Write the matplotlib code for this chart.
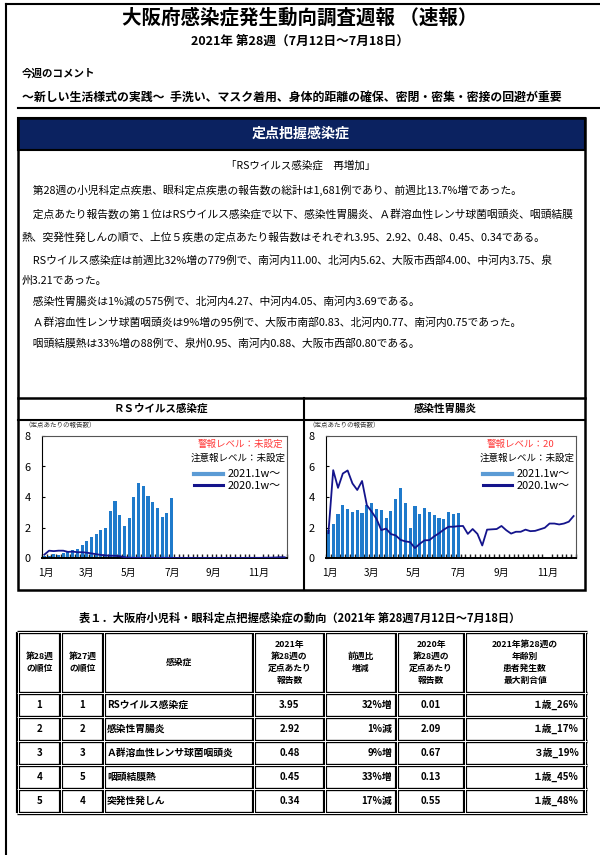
import numpy as np
import matplotlib
matplotlib.use('Agg')
import matplotlib.pyplot as plt
from matplotlib.patches import Rectangle
from matplotlib.lines import Line2D

plt.rcParams['font.family'] = ['Noto Sans CJK JP', 'DejaVu Sans']

W, H = 600, 855

# ---- chart data (per sentinel reports, by week) ----
weeks_2021 = np.arange(1, 29)
weeks_2020 = np.arange(1, 53)

rs_2021 = [0.10, 0.15, 0.26, 0.20, 0.33, 0.40, 0.55, 0.60, 0.83, 1.10,
           1.38, 1.56, 1.82, 1.97, 3.05, 3.73, 2.85, 2.13, 2.65, 4.01,
           4.93, 4.71, 4.06, 3.66, 3.27, 2.70, 2.92, 3.95]
rs_2020 = [0.22, 0.48, 0.45, 0.48, 0.48, 0.40, 0.42, 0.38, 0.38, 0.35,
           0.30, 0.25, 0.20, 0.17, 0.15, 0.15, 0.12, 0.05, 0.02, 0.01,
           0.01, 0.01, 0.00, 0.01, 0.00, 0.01, 0.01, 0.01, 0.00, 0.01,
           0.00, 0.01, 0.00, 0.00, 0.01, 0.00, 0.00, 0.01, 0.00, 0.00,
           0.00, 0.01, 0.00, 0.01, 0.01, 0.01, 0.01, 0.02, 0.02, 0.03,
           0.05, 0.05]

gastro_2021 = [1.85, 2.22, 2.87, 3.47, 3.22, 3.00, 3.12, 2.95, 3.47, 3.58,
               3.22, 3.17, 2.60, 3.08, 3.85, 4.62, 3.58, 1.98, 3.44, 2.86,
               3.28, 3.02, 2.82, 2.62, 2.56, 3.02, 2.88, 2.92]
gastro_2020 = [1.63, 5.76, 4.60, 5.54, 5.74, 4.89, 4.46, 5.05, 3.46, 3.04,
               2.57, 1.83, 1.93, 1.57, 1.48, 1.19, 1.09, 1.04, 0.65, 0.93,
               1.16, 1.17, 1.42, 1.62, 1.86, 2.05, 2.05, 2.09, 2.10, 1.58,
               1.90, 1.58, 0.82, 1.86, 1.88, 1.90, 2.10, 1.82, 1.60, 1.72,
               1.72, 1.86, 1.76, 1.78, 1.88, 1.98, 2.26, 2.26, 2.20, 2.26,
               2.38, 2.75]

month_labels = ['1月', '3月', '5月', '7月', '9月', '11月']
month_pos = [1.3, 9.9, 18.8, 28.1, 36.9, 46.5]

# ---- table data ----
rank_28 = ['1', '2', '3', '4', '5']
rank_27 = ['1', '2', '3', '5', '4']
diseases = ['RSウイルス感染症', '感染性胃腸炎', 'Ａ群溶血性レンサ球菌咽頭炎', '咽頭結膜熱', '突発性発しん']
per_2021 = ['3.95', '2.92', '0.48', '0.45', '0.34']
change = ['32%増', '1%減', '9%増', '33%増', '17%減']
per_2020 = ['0.01', '2.09', '0.67', '0.13', '0.55']
max_age = ['１歳_26%', '１歳_17%', '３歳_19%', '１歳_45%', '１歳_48%']
headers = ['第28週\nの順位', '第27週\nの順位', '感染症', '2021年\n第28週の\n定点あたり\n報告数',
           '前週比\n増減', '2020年\n第28週の\n定点あたり\n報告数',
           '2021年第28週の\n年齢別\n患者発生数\n最大割合値']

comment_lines = [
    '　第28週の小児科定点疾患、眼科定点疾患の報告数の総計は1,681例であり、前週比13.7%増であった。',
    '　定点あたり報告数の第１位はRSウイルス感染症で以下、感染性胃腸炎、Ａ群溶血性レンサ球菌咽頭炎、咽頭結膜',
    '熱、突発性発しんの順で、上位５疾患の定点あたり報告数はそれぞれ3.95、2.92、0.48、0.45、0.34である。',
    '　RSウイルス感染症は前週比32%増の779例で、南河内11.00、北河内5.62、大阪市西部4.00、中河内3.75、泉',
    '州3.21であった。',
    '　感染性胃腸炎は1%減の575例で、北河内4.27、中河内4.05、南河内3.69である。',
    '　Ａ群溶血性レンサ球菌咽頭炎は9%増の95例で、大阪市南部0.83、北河内0.77、南河内0.75であった。',
    '　咽頭結膜熱は33%増の88例で、泉州0.95、南河内0.88、大阪市西部0.80である。',
]

NAVY = '#0b2260'
BAR = '#1f7acb'
LINE20 = '#14148c'
LEG21 = '#5b9bd5'


def px(v):
    return v * 0.72


fig = plt.figure(figsize=(W / 100, H / 100), dpi=100)
bg = fig.add_axes([0, 0, 1, 1])
bg.set_xlim(0, W)
bg.set_ylim(H, 0)
bg.axis('off')

# page frame
bg.plot([6, 6], [4, H], color='black', lw=1.5)
bg.plot([6, W], [4, 4], color='black', lw=1.5)

bg.text(300, 18, '大阪府感染症発生動向調査週報 （速報）', ha='center', va='center',
        fontsize=px(19.5), fontweight='bold')
bg.text(300, 41, '2021年 第28週（7月12日～7月18日）', ha='center', va='center',
        fontsize=px(12.6), fontweight='bold')
bg.text(22, 73, '今週のコメント', ha='left', va='center', fontsize=px(10.5), fontweight='bold')
bg.text(22, 97, '～新しい生活様式の実践～  手洗い、マスク着用、身体的距離の確保、密閉・密集・密接の回避が重要',
        ha='left', va='center', fontsize=px(11.9), fontweight='bold')
bg.plot([18, W], [108, 108], color='black', lw=1.5)

# sentinel section box
bg.add_patch(Rectangle((18, 118), 567, 32, facecolor=NAVY, edgecolor='black', lw=1.5))
bg.text(301, 134, '定点把握感染症', ha='center', va='center', color='white',
        fontsize=px(14), fontweight='bold')
bg.add_patch(Rectangle((18, 118), 567, 472, facecolor='none', edgecolor='black', lw=1.8))
bg.text(301, 165, '「RSウイルス感染症　再増加」', ha='center', va='center', fontsize=px(10.5))
line_y = [190, 214, 237, 260, 281, 302, 323, 344]
for ty, line in zip(line_y, comment_lines):
    bg.text(22, ty, line, ha='left', va='center', fontsize=px(10.8))

# chart panels frame
bg.plot([18, 585], [398, 398], color='black', lw=1.8)
bg.plot([18, 585], [420, 420], color='black', lw=1.5)
bg.plot([304, 304], [398, 590], color='black', lw=1.5)
bg.text(161, 409, 'ＲＳウイルス感染症', ha='center', va='center', fontsize=px(10.5), fontweight='bold')
bg.text(445, 409, '感染性胃腸炎', ha='center', va='center', fontsize=px(10.5), fontweight='bold')


def add_chart(x0, x1, y0, y1, bars, line, alarm, alarm_x, alarm_ha, leg_y):
    ax = fig.add_axes([x0 / W, 1 - y1 / H, (x1 - x0) / W, (y1 - y0) / H])
    ax.bar(weeks_2021, bars, width=0.65, color=BAR, zorder=2)
    ax.plot(weeks_2020, line, color=LINE20, lw=1.3, zorder=3)
    ax.set_xlim(0.5, 52.5)
    ax.set_ylim(0, 8)
    ax.set_yticks([0, 2, 4, 6, 8])
    ax.tick_params(axis='y', direction='in', length=2, labelsize=px(11), pad=8)
    ax.set_xticks(month_pos)
    ax.set_xticklabels(month_labels)
    ax.tick_params(axis='x', length=0, labelsize=px(10), pad=7)
    ax.set_xticks(np.arange(0.5, 53, 1), minor=True)
    ax.tick_params(axis='x', which='minor', direction='in', length=3, width=1, color='#222222')
    for s in ['top', 'right']:
        ax.spines[s].set_color('#555555')
        ax.spines[s].set_linewidth(0.8)
    ax.spines['left'].set_linewidth(0.8)
    ax.spines['bottom'].set_linewidth(1.4)
    ax.text(-0.07, 1.09, '（定点あたりの報告数）', transform=ax.transAxes, ha='left', va='center',
            fontsize=px(6.5), color='#333333')
    ax.text(alarm_x, 0.93, alarm, transform=ax.transAxes, ha=alarm_ha, va='center',
            fontsize=px(9.5), color='#ff3b3b')
    ax.text(0.995, 0.82, '注意報レベル：未設定', transform=ax.transAxes, ha='right', va='center',
            fontsize=px(9.5))
    handles = [Line2D([], [], color=LEG21, lw=3), Line2D([], [], color=LINE20, lw=2.2)]
    ax.legend(handles, ['2021.1w～', '2020.1w～'], loc='upper right', bbox_to_anchor=(1.0, leg_y),
              frameon=False, fontsize=px(11), handlelength=2.6, handletextpad=0.4,
              labelspacing=0.15, borderaxespad=0.2)
    return ax


add_chart(42, 287, 436, 558, rs_2021, rs_2020, '警報レベル：未設定', 0.985, 'right', 0.78)
add_chart(326, 576, 436, 558, gastro_2021, gastro_2020, '警報レベル：20', 0.78, 'center', 0.78)

# ---- table ----
bg.text(300, 618, '表１．大阪府小児科・眼科定点把握感染症の動向（2021年 第28週7月12日～7月18日）',
        ha='center', va='center', fontsize=px(11.2), fontweight='bold')
col_x = [18, 61, 104, 254, 325, 397, 465, 585]
row_y = [632, 693, 717, 741, 765, 789, 813]


def dline(xs, ys, lw=2.8):
    bg.plot(xs, ys, color='black', lw=lw, solid_capstyle='butt', zorder=4)
    bg.plot(xs, ys, color='white', lw=0.7, solid_capstyle='butt', zorder=5)


for cx in col_x:
    dline([cx, cx], [row_y[0], row_y[-1]], lw=3.0)
for ry in row_y:
    dline([col_x[0] - 1.5, col_x[-1] + 1.5], [ry, ry], lw=2.4)

for i, h in enumerate(headers):
    bg.text((col_x[i] + col_x[i + 1]) / 2, (row_y[0] + row_y[1]) / 2, h, ha='center', va='center',
            fontsize=px(8.8), fontweight='bold', linespacing=1.4)

for r in range(5):
    yc = (row_y[r + 1] + row_y[r + 2]) / 2
    kw = dict(va='center', fontsize=px(9.8), fontweight='bold')
    bg.text((col_x[0] + col_x[1]) / 2, yc, rank_28[r], ha='center', **kw)
    bg.text((col_x[1] + col_x[2]) / 2, yc, rank_27[r], ha='center', **kw)
    bg.text(col_x[2] + 3, yc, diseases[r], ha='left', **kw)
    bg.text((col_x[3] + col_x[4]) / 2, yc, per_2021[r], ha='center', **kw)
    bg.text(col_x[5] - 5, yc, change[r], ha='right', **kw)
    bg.text((col_x[5] + col_x[6]) / 2, yc, per_2020[r], ha='center', **kw)
    bg.text(col_x[7] - 6, yc, max_age[r], ha='right', **kw)

fig.savefig('out.png', dpi=100)
